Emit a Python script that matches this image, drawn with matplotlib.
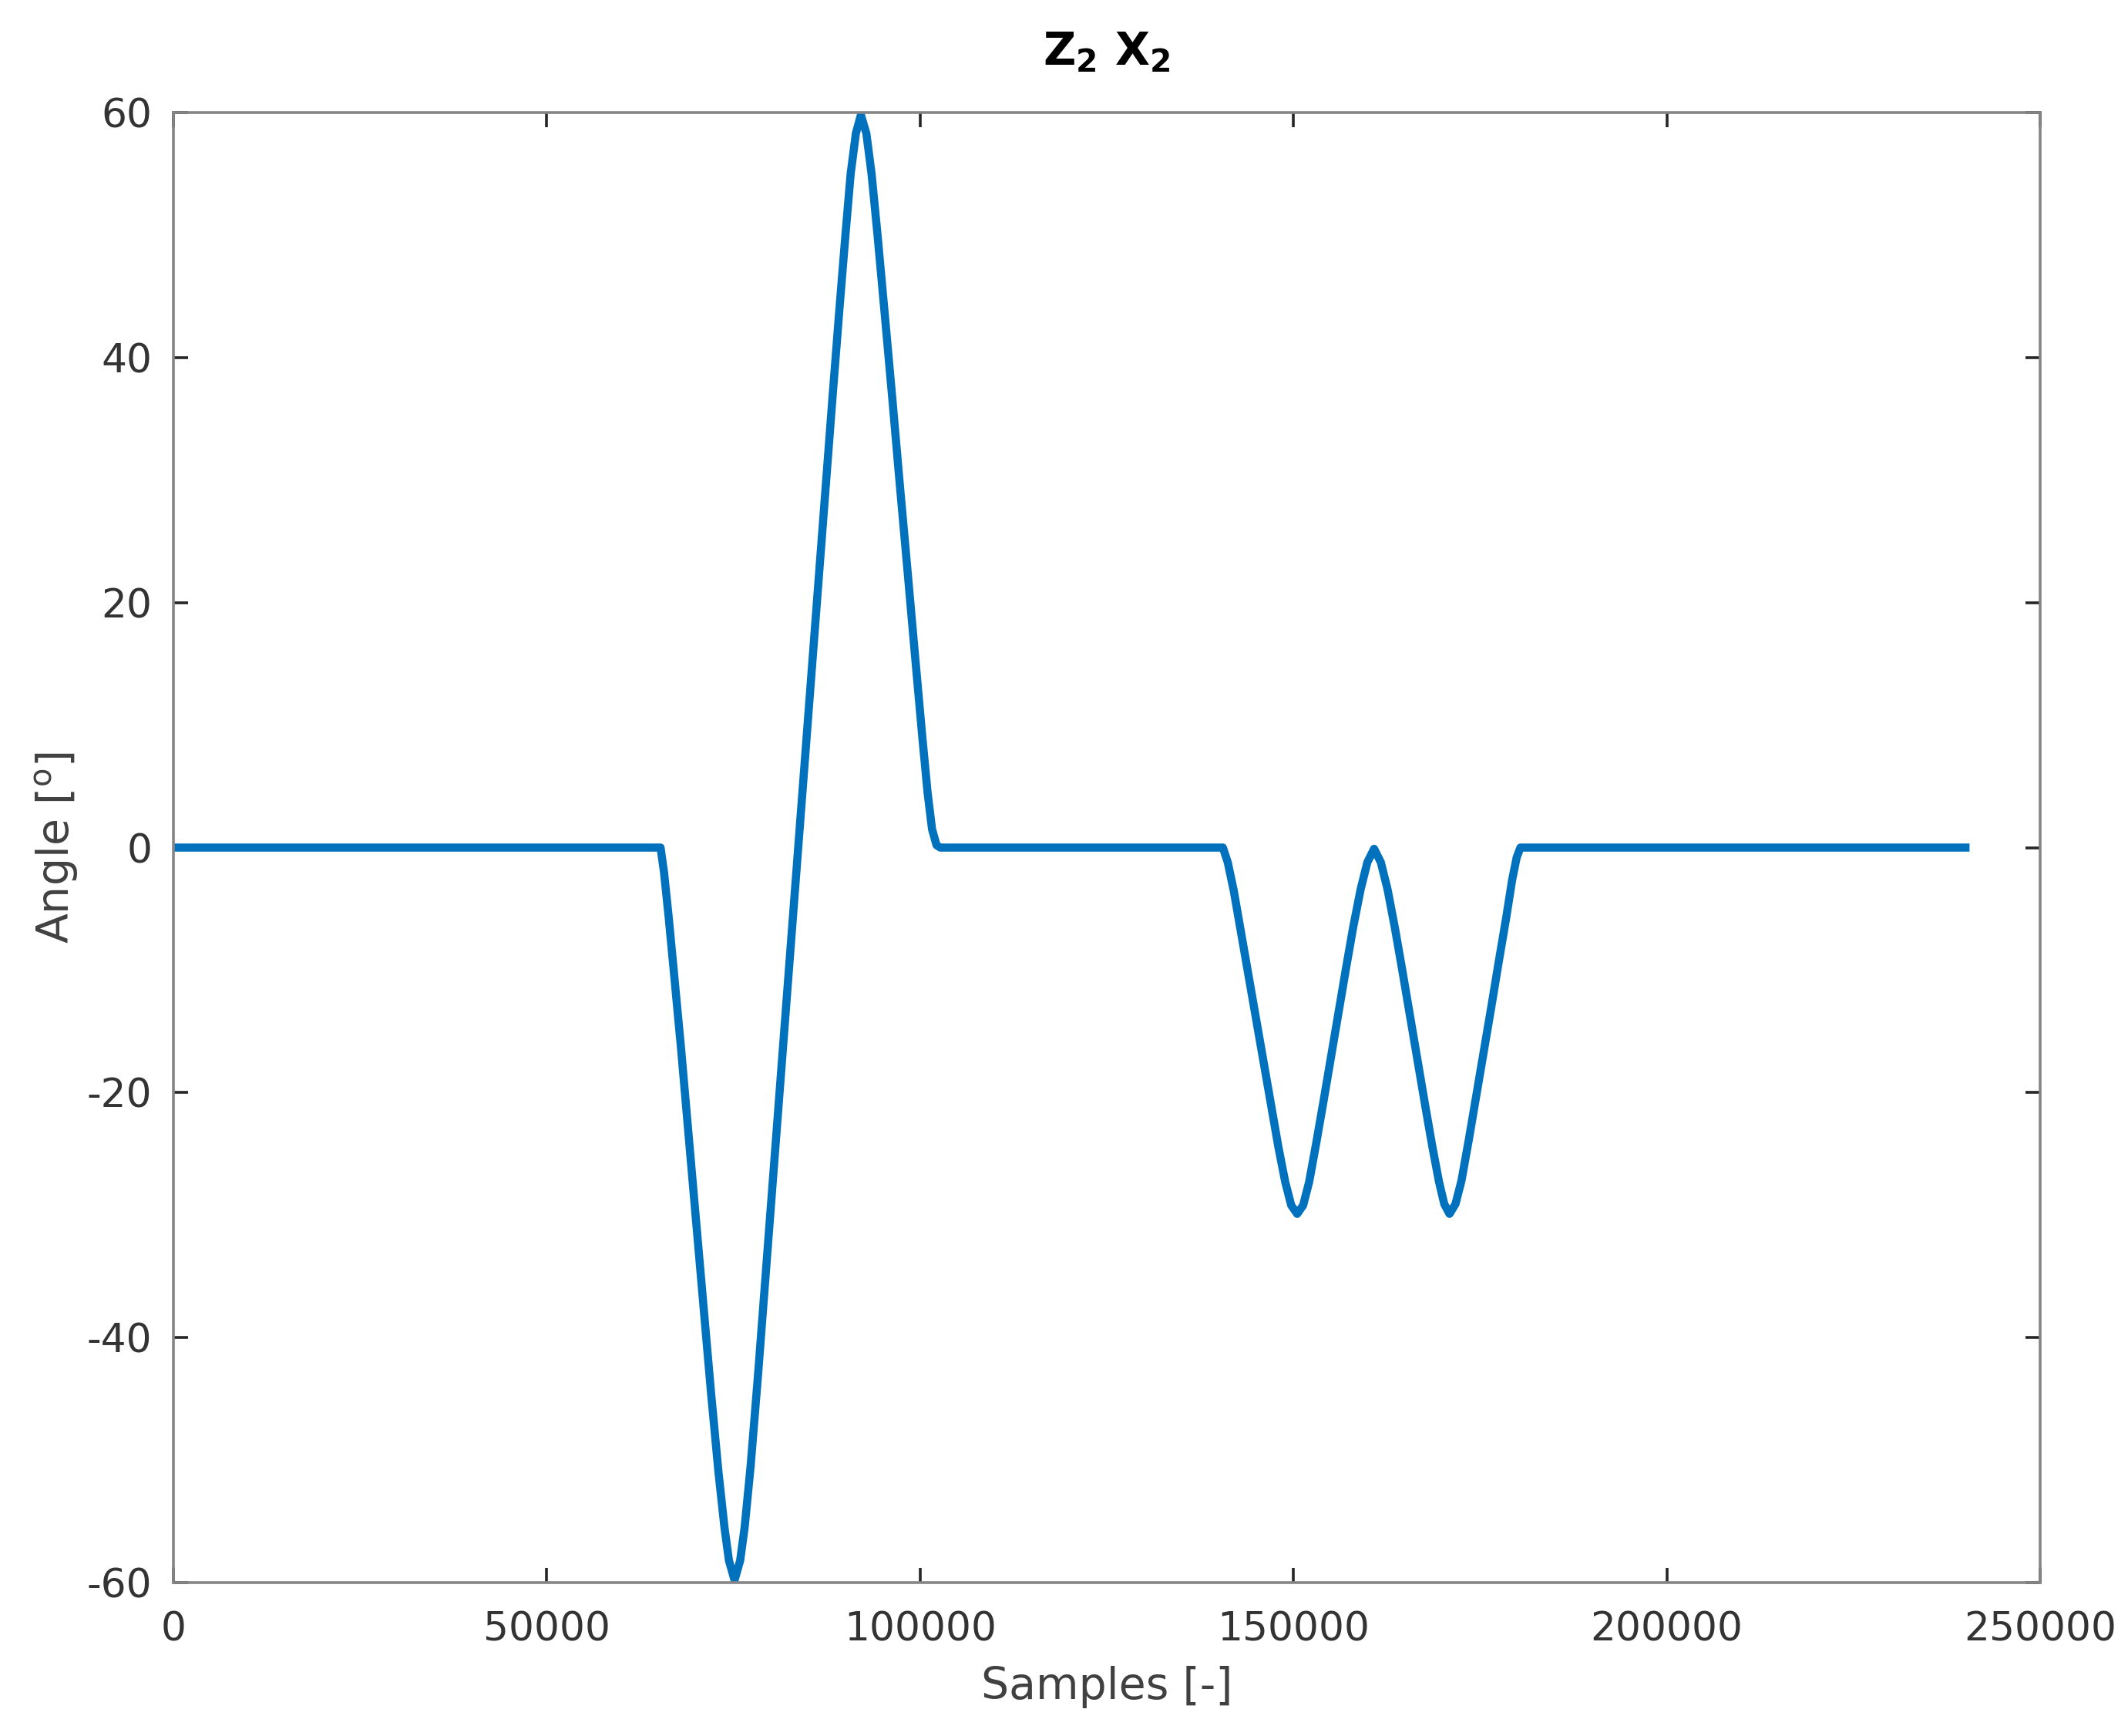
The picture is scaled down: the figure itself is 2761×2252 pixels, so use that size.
import numpy as np
import matplotlib
matplotlib.use("Agg")
import matplotlib.pyplot as plt

# points (sample index, angle in degrees)
samples_1 = [0, 65240, 65700, 66300, 67000, 68000, 69000, 70000, 71000, 72000,
             73000, 73800, 74400, 75150, 75900, 76500, 77300, 78300, 79300,
             80300, 81300, 82300, 83300, 84300, 85300, 86300, 87300, 88300,
             89200, 90000, 90700, 91400, 92070, 92800, 93500, 94300, 95300,
             96300, 97300, 98300, 99300, 100300, 101000, 101600, 102200, 102700]
angle_1 = [0, 0, -2, -5.5, -10, -16.5, -23.5, -30.5, -37.5, -44.5,
           -51, -55.5, -58.2, -59.8, -58.2, -55.5, -50.5, -43, -35,
           -27, -19, -11, -3, 5, 13, 21, 29, 37,
           44, 50, 55, 58.3, 59.8, 58.3, 55, 50, 43.3,
           36.5, 29.5, 22.7, 15.8, 9, 4.5, 1.5, 0.2, 0]

samples_2 = [140550, 141200, 142000, 143000, 144000, 145000, 146000, 147000,
             148000, 148900, 149700, 150500, 151300, 152100, 153000, 154000,
             155000, 156000, 157000, 158000, 159000, 159900, 160800, 161700,
             162600, 163600, 164600, 165600, 166600, 167600, 168600, 169500,
             170200, 170900, 171700, 172500, 173500, 174500, 175500, 176500,
             177500, 178500, 179300, 179900, 180400, 240000]
angle_2 = [0, -1.2, -3.5, -7, -10.5, -14, -17.5, -21,
           -24.5, -27.3, -29.2, -29.9, -29.2, -27.3, -24.3, -20.8,
           -17.2, -13.6, -10, -6.5, -3.4, -1.2, -0.1, -1.2,
           -3.4, -6.6, -10.1, -13.7, -17.3, -20.9, -24.4, -27.3,
           -29.1, -29.9, -29.1, -27.2, -23.8, -20.2, -16.6, -13,
           -9.3, -5.7, -2.6, -0.8, 0, 0]

x_ticks = [0, 50000, 100000, 150000, 200000, 250000]
y_ticks = [-60, -40, -20, 0, 20, 40, 60]

x = np.array(samples_1 + samples_2)
y = np.array(angle_1 + angle_2)

plt.rcParams['font.family'] = 'DejaVu Sans'
plt.rcParams['mathtext.default'] = 'regular'
plt.rcParams['axes.unicode_minus'] = False

fig = plt.figure(figsize=(2761 / 200, 2252 / 200), dpi=200)
ax = fig.add_axes([225 / 2761, 1 - 2053 / 2252, (2647 - 225) / 2761, (2053 - 146) / 2252])

ax.plot(x, y, color='#0072BD', linewidth=3.8)

ax.set_xlim(0, 250000)
ax.set_ylim(-60, 60)
ax.set_xticks(x_ticks)
ax.set_yticks(y_ticks)
ax.set_xticklabels([str(t) for t in x_ticks])
ax.set_yticklabels([str(t) for t in y_ticks])

for s in ax.spines.values():
    s.set_color('#858585')
    s.set_linewidth(1.3)

ax.tick_params(direction='in', length=7, width=1.3, color='#262626',
               top=True, right=True, labelsize=18.7, labelcolor='#333333')
ax.tick_params(axis='x', pad=13)
ax.tick_params(axis='y', pad=10)

ax.set_xlabel('Samples [-]', fontsize=20.5, color='#404040', labelpad=8)
ax.set_ylabel('Angle [$^{o}$]', fontsize=20.5, color='#404040', labelpad=3)
ax.set_title('Z$_2$ X$_2$', fontsize=21, fontweight='bold', color='black', pad=22)

fig.savefig('out.png', dpi=200, facecolor='white')
